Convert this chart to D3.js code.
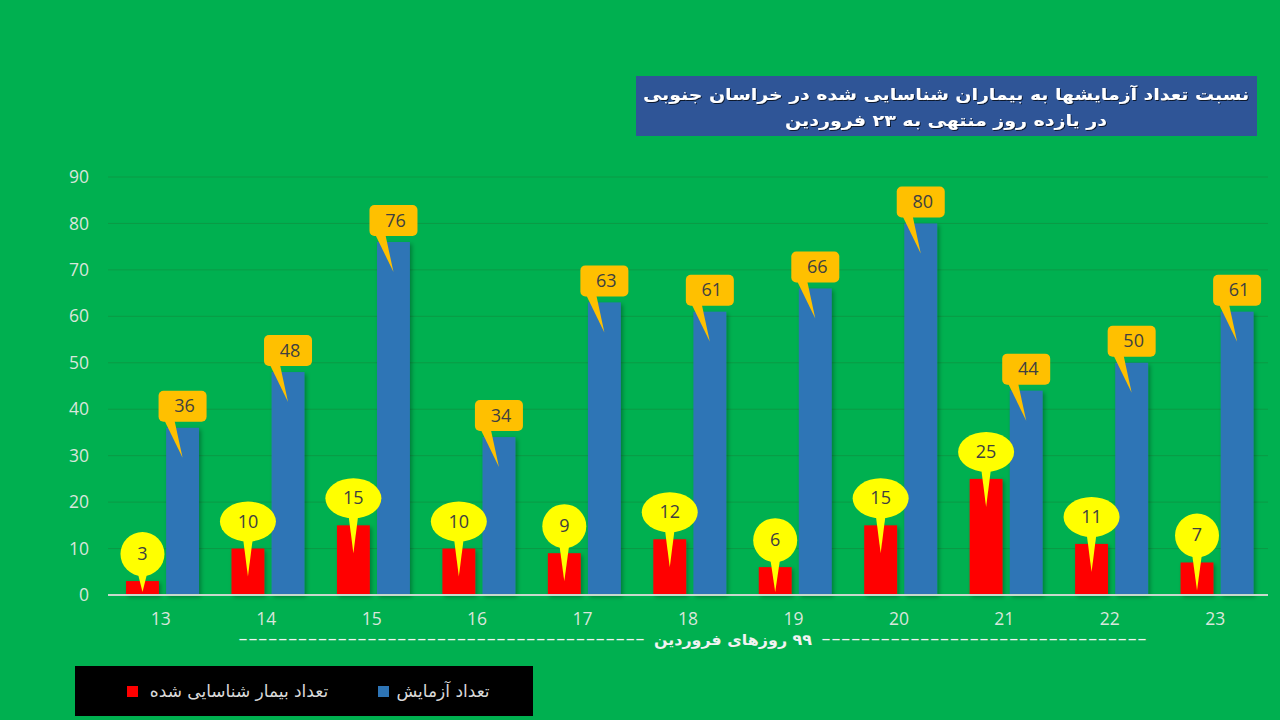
<!DOCTYPE html>
<html>
<head>
<meta charset="utf-8">
<script src="https://cdn.jsdelivr.net/npm/d3@7"></script>
<style>
  html, body { margin: 0; padding: 0; background: #00B050; }
  svg { display: block; }
</style>
</head>
<body>
<svg id="chart" width="1280" height="720"></svg>
<script>
const categories = ["13","14","15","16","17","18","19","20","21","22","23"];
const testsValues = [36,48,76,34,63,61,66,80,44,50,61];
const casesValues = [3,10,15,10,9,12,6,15,25,11,7];
const yTicks = [0,10,20,30,40,50,60,70,80,90];
const titleLines = ["نسبت تعداد آزمایشها به بیماران شناسایی شده در خراسان جنوبی", "در یازده روز منتهی به ۲۳ فروردین"];
const xAxisTitle = "۹۹ روزهای فروردین";
const legendCases = "تعداد بیمار شناسایی شده";
const legendTests = "تعداد آزمایش";

(function() {
const svg = d3.select("#chart");
const W = 1280, H = 720;
const plotLeft = 108, plotRight = 1268, plotTop = 177, plotBottom = 595;

svg.append("rect").attr("width", W).attr("height", H).attr("fill", "#00B050");

const defs = svg.append("defs");
const sh = defs.append("filter").attr("id", "shadow").attr("x", "-20%").attr("y", "-20%").attr("width", "150%").attr("height", "150%");
sh.append("feDropShadow").attr("dx", 2).attr("dy", 2).attr("stdDeviation", 2).attr("flood-color", "#000").attr("flood-opacity", 0.3);
const tsh = defs.append("filter").attr("id", "tshadow");
tsh.append("feDropShadow").attr("dx", 1).attr("dy", 1).attr("stdDeviation", 0.6).attr("flood-color", "#000").attr("flood-opacity", 0.7);

const x = d3.scaleBand().domain(categories).range([plotLeft, plotRight]).padding(0);
const step = x.step();
const series = ["cases", "tests"];
const x1 = d3.scaleBand().domain(series).range([step * 0.171, step * 0.863]).paddingInner(0.18);
const y = d3.scaleLinear().domain([0, 90]).range([plotBottom, plotTop]);

// gridlines
svg.append("g").selectAll("line").data(yTicks.filter(d => d > 0)).join("line")
  .attr("x1", plotLeft).attr("x2", plotRight)
  .attr("y1", d => y(d)).attr("y2", d => y(d))
  .attr("stroke", "#0a9a45").attr("stroke-width", 1);

// y axis labels
const yAxis = d3.axisLeft(y).tickValues(yTicks).tickSize(0).tickPadding(0);
const gy = svg.append("g").attr("transform", `translate(${plotLeft - 19},0)`).call(yAxis);
gy.select(".domain").remove();
gy.selectAll("text").attr("fill", "#d9e6dc").attr("font-family", "Open Sans, Liberation Sans, sans-serif").attr("font-size", 17.5);

// x axis labels
const xAxis = d3.axisBottom(x).tickSize(0).tickPadding(0);
const gx = svg.append("g").attr("transform", `translate(0,${plotBottom + 18})`).call(xAxis);
gx.select(".domain").remove();
gx.selectAll("text").attr("fill", "#d9e6dc").attr("font-family", "Open Sans, Liberation Sans, sans-serif").attr("font-size", 17.5);

const data = categories.map((c, i) => ({ c, cases: casesValues[i], tests: testsValues[i] }));

// bars
const bars = svg.append("g").attr("filter", "url(#shadow)");
bars.selectAll("rect.cases").data(data).join("rect").attr("class", "cases")
  .attr("x", d => x(d.c) + x1("cases")).attr("width", x1.bandwidth())
  .attr("y", d => y(d.cases)).attr("height", d => plotBottom - y(d.cases))
  .attr("fill", "#FF0000");
bars.selectAll("rect.tests").data(data).join("rect").attr("class", "tests")
  .attr("x", d => x(d.c) + x1("tests")).attr("width", x1.bandwidth())
  .attr("y", d => y(d.tests)).attr("height", d => plotBottom - y(d.tests))
  .attr("fill", "#2E75B6");

// baseline
svg.append("line").attr("x1", plotLeft).attr("x2", plotRight).attr("y1", plotBottom).attr("y2", plotBottom)
  .attr("stroke", "#c8d8cc").attr("stroke-width", 2);

// test callouts (orange rounded rectangles)
const tc = svg.append("g").selectAll("g").data(data).join("g");
tc.each(function(d) {
  const g = d3.select(this);
  const cx = x(d.c) + x1("tests") + x1.bandwidth() / 2;
  const bt = y(d.tests);
  const w = 48, h = 31;
  const rx0 = cx - w / 2, ry1 = bt - 6, ry0 = ry1 - h;
  g.append("rect").attr("x", rx0).attr("y", ry0).attr("width", w).attr("height", h).attr("rx", 5)
    .attr("fill", "#FFC000");
  g.append("path").attr("d", `M${rx0 + 6},${ry1 - 1} L${rx0 + 16},${ry1 - 1} L${cx},${bt + 30} Z`).attr("fill", "#FFC000");
  g.append("text").attr("x", cx + 2).attr("y", ry0 + h / 2 + 6).attr("text-anchor", "middle")
    .attr("font-family", "Open Sans, Liberation Sans, sans-serif").attr("font-size", 18)
    .attr("fill", "#404040").text(d.tests);
});

// case callouts (yellow ellipses)
const cc = svg.append("g").selectAll("g").data(data).join("g");
cc.each(function(d) {
  const g = d3.select(this);
  const cx = x(d.c) + x1("cases") + x1.bandwidth() / 2;
  const bt = y(d.cases);
  const single = String(d.cases).length === 1;
  const rx = single ? 22 : 28, ry = single ? 22 : 20;
  const cy = bt - 27;
  const tip = Math.min(bt + 28, plotBottom - 3);
  g.append("path").attr("d", `M${cx - 5},${cy + ry - 4} L${cx + 5},${cy + ry - 4} L${cx},${tip} Z`).attr("fill", "#FFFF00");
  g.append("ellipse").attr("cx", cx).attr("cy", cy).attr("rx", rx).attr("ry", ry).attr("fill", "#FFFF00");
  g.append("text").attr("x", cx).attr("y", cy + 6).attr("text-anchor", "middle")
    .attr("font-family", "Open Sans, Liberation Sans, sans-serif").attr("font-size", 18)
    .attr("fill", "#404040").text(d.cases);
});

// title box
svg.append("rect").attr("x", 636).attr("y", 76).attr("width", 621).attr("height", 60).attr("fill", "#2F5597");
const titleWidths = [606, 322];
svg.append("g").selectAll("text").data(titleLines).join("text")
  .attr("x", 946).attr("y", (d, i) => 100 + i * 26)
  .attr("text-anchor", "middle").attr("direction", "rtl")
  .attr("textLength", (d, i) => titleWidths[i]).attr("lengthAdjust", "spacingAndGlyphs")
  .attr("font-family", "DejaVu Sans, sans-serif").attr("font-weight", "bold").attr("font-size", 16)
  .attr("fill", "#ffffff").attr("filter", "url(#tshadow)").text(d => d);

// x axis title
const dashes = "-".repeat(41);
const axt = svg.append("g").attr("font-family", "DejaVu Sans, sans-serif").attr("fill", "#f2f2f2").attr("font-size", 15);
axt.append("text").attr("x", 238).attr("y", 644).attr("text-anchor", "start").attr("textLength", 407).attr("lengthAdjust", "spacingAndGlyphs").text(dashes);
axt.append("text").attr("x", 733).attr("y", 645).attr("text-anchor", "middle").attr("direction", "rtl").attr("font-weight", "bold")
  .attr("textLength", 158).attr("lengthAdjust", "spacingAndGlyphs").text(xAxisTitle);
axt.append("text").attr("x", 821).attr("y", 644).attr("text-anchor", "start").attr("textLength", 326).attr("lengthAdjust", "spacingAndGlyphs").text(dashes.slice(0, 33));

// legend
svg.append("rect").attr("x", 75).attr("y", 666).attr("width", 458).attr("height", 50).attr("fill", "#000");
const legendItems = [
  { label: legendCases, color: "#FF0000", sx: 127, tx: 239 },
  { label: legendTests, color: "#2E75B6", sx: 378, tx: 443 }
];
const lg = svg.append("g").selectAll("g").data(legendItems).join("g");
lg.append("rect").attr("x", d => d.sx).attr("y", 686).attr("width", 11).attr("height", 11).attr("fill", d => d.color);
lg.append("text").attr("x", d => d.tx).attr("y", 697).attr("text-anchor", "middle").attr("direction", "rtl")
  .attr("font-family", "DejaVu Sans, sans-serif").attr("font-size", 17).attr("fill", "#d9d9d9").text(d => d.label);
})();
</script>
</body>
</html>
